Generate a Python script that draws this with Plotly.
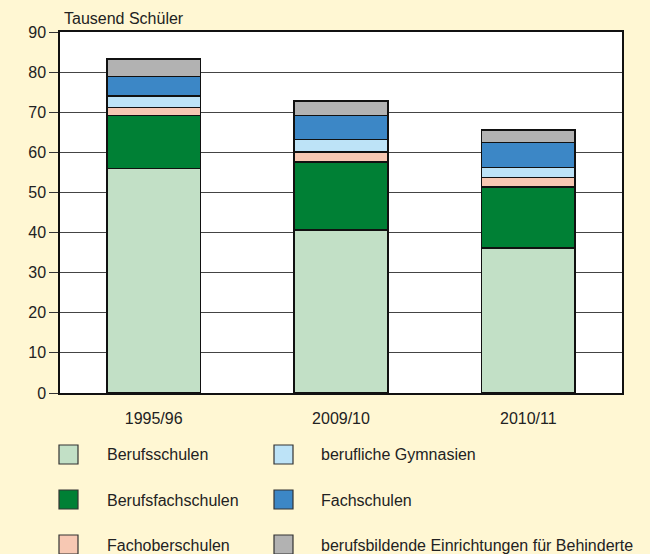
import plotly.graph_objects as go

years = ["1995/96", "2009/10", "2010/11"]
series_names = [
    "Berufsschulen",
    "Berufsfachschulen",
    "Fachoberschulen",
    "berufliche Gymnasien",
    "Fachschulen",
    "berufsbildende Einrichtungen für Behinderte",
]
berufsschulen = [56.0, 40.6, 36.2]
berufsfachschulen = [13.2, 17.0, 15.2]
fachoberschulen = [2.0, 2.5, 2.3]
berufliche_gymnasien = [2.9, 3.1, 2.5]
fachschulen = [4.8, 6.0, 6.2]
behinderte = [4.4, 3.6, 3.2]
colors = ["#c2e0c6", "#008035", "#f7c8b3", "#bde3f7", "#3c87c6", "#b2b2b2"]
y_ticks = [0, 10, 20, 30, 40, 50, 60, 70, 80, 90]

values = [berufsschulen, berufsfachschulen, fachoberschulen,
          berufliche_gymnasien, fachschulen, behinderte]

fig = go.Figure()
for name, vals, col in zip(series_names, values, colors):
    fig.add_trace(go.Bar(x=years, y=vals, name=name, marker_color=col,
                         marker_line_color="#111111", marker_line_width=1.5,
                         showlegend=False))

font = dict(family="Liberation Sans, Arial, sans-serif", size=16, color="#222222")

L, R, T, B = 60, 622, 32, 393
PW, PH = R - L, B - T

fig.update_layout(
    barmode="stack",
    bargap=0.5,
    width=650, height=554,
    margin=dict(l=L, r=650 - R, t=T, b=554 - B, pad=0),
    paper_bgcolor="#fff7d3",
    plot_bgcolor="#ffffff",
    font=font,
    xaxis=dict(showline=True, linecolor="#111111", linewidth=1.5, mirror=True,
               ticks="", showgrid=False, tickfont=font, ticklabelstandoff=10),
    yaxis=dict(range=[0, 90], tickvals=y_ticks, showline=True, linecolor="#111111",
               linewidth=1.5, mirror=True, ticks="outside", ticklen=9,
               tickcolor="#333333", showgrid=True, gridcolor="#444444",
               gridwidth=1, zeroline=False, tickfont=font),
)

fig.add_annotation(text="Tausend Schüler", xref="paper", yref="paper",
                   x=0.0, y=1.0, xanchor="left", yanchor="middle",
                   xshift=2, yshift=13.5, showarrow=False, font=font)

# Manual legend: 2 columns x 3 rows, filled column-wise
col_x = [59, 274]
text_x = [105, 319]
row_y = [445, 490, 535]
legend_order = [(0, 0), (0, 1), (0, 2), (1, 0), (1, 1), (1, 2)]
for (c, r), name, col in zip(legend_order, series_names, colors):
    x0 = col_x[c]
    y0 = row_y[r]
    fig.add_shape(type="rect", xref="paper", yref="paper",
                  x0=(x0 - L) / PW, x1=(x0 + 19 - L) / PW,
                  y0=(B - (y0 + 19)) / PH, y1=(B - y0) / PH,
                  fillcolor=col, line=dict(color="#333333", width=1.2))
    fig.add_annotation(text=name, xref="paper", yref="paper",
                       x=(text_x[c] - L) / PW, y=(B - (y0 + 10)) / PH,
                       xanchor="left", yanchor="middle", showarrow=False, font=font)

fig.write_html("out.html",
               config={"displayModeBar": False},
               post_script="document.body.style.margin='0';document.body.style.padding='0';")
